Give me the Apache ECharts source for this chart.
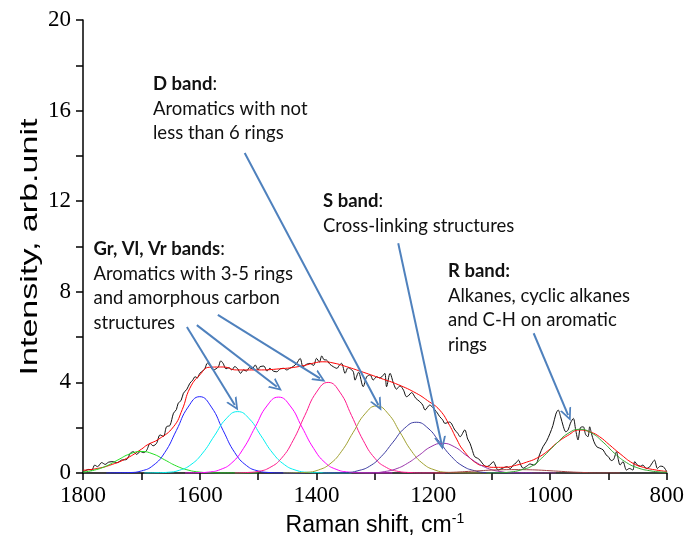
<!DOCTYPE html>
<html>
<head>
<meta charset="utf-8">
<script src="https://cdn.jsdelivr.net/npm/echarts@6/dist/echarts.min.js"></script>
<style>
html, body { margin: 0; padding: 0; background: #fff; }
#chart { width: 687px; height: 551px; }
</style>
</head>
<body>
<div id="chart"></div>
<script>
// measured spectrum [Raman shift, intensity]
const spectrum = [
  [1800,0.04],[1796,0.1],[1790,0.16],[1785,0.12],[1780,0.35],[1775,0.28],[1768,0.46],[1762,0.38],
  [1756,0.48],[1748,0.5],[1742,0.45],[1734,0.57],[1725,0.6],[1719,0.87],[1714,0.94],[1708,0.82],
  [1702,0.95],[1696,0.9],[1691,1.0],[1685,1.31],[1680,1.2],[1674,1.31],[1668,1.68],[1662,1.62],
  [1657,2.04],[1651,2.1],[1645,2.64],[1640,2.8],[1637,3.08],[1632,3.2],[1628,3.52],[1622,3.7],
  [1617,3.96],[1612,4.1],[1608,4.25],[1604,4.2],[1600,4.4],[1595,4.5],[1591,4.62],[1587,4.85],
  [1583,4.77],[1577,4.55],[1572,4.6],[1568,4.69],[1564,4.95],[1560,4.84],[1555,4.6],[1550,4.65],
  [1545,4.55],[1540,4.7],[1535,4.6],[1530,4.4],[1525,4.55],[1520,4.5],[1515,4.65],[1510,4.6],
  [1505,4.77],[1500,4.55],[1497,4.69],[1490,4.72],[1485,4.5],[1480,4.62],[1474,4.5],[1468,4.47],
  [1462,4.6],[1456,4.62],[1451,4.55],[1446,4.62],[1440,4.7],[1434,4.84],[1428,5.06],[1423,4.69],
  [1417,4.8],[1411,4.84],[1405,4.75],[1400,5.06],[1395,4.9],[1391,5.17],[1387,5.0],[1383,4.99],
  [1377,4.8],[1371,4.69],[1365,4.62],[1361,4.75],[1357,4.84],[1351,4.4],[1346,4.65],[1343,4.62],
  [1337,4.47],[1334,4.1],[1328,4.45],[1320,3.81],[1314,4.25],[1308,4.33],[1303,4.1],[1297,4.25],
  [1292,4.2],[1288,4.25],[1283,4.4],[1280,3.81],[1274,4.4],[1268,3.95],[1263,3.7],[1257,3.85],
  [1251,3.66],[1246,3.37],[1243,3.4],[1237,3.55],[1230,3.3],[1223,3.15],[1218,3.0],[1214,2.78],
  [1206,3.0],[1201,2.9],[1197,2.78],[1193,2.65],[1189,2.49],[1184,2.35],[1180,2.19],[1172,2.25],
  [1163,1.9],[1158,1.75],[1154,1.6],[1146,1.9],[1141,1.5],[1137,1.31],[1133,1.0],[1129,0.72],
  [1124,0.65],[1120,0.57],[1115,0.4],[1109,0.28],[1103,0.35],[1097,0.5],[1093,0.3],[1089,0.13],
  [1082,0.2],[1074,0.28],[1068,0.2],[1063,0.35],[1058,0.45],[1054,0.57],[1050,0.35],[1046,0.21],
  [1040,0.3],[1034,0.4],[1028,0.35],[1023,0.43],[1018,0.8],[1012,1.16],[1006,1.4],[1000,1.75],
  [995,2.1],[990,2.6],[986,2.78],[982,2.5],[977,2.04],[973,1.82],[969,1.9],[965,2.2],
  [960,2.41],[956,1.9],[952,1.46],[948,2.0],[943,2.04],[939,1.7],[935,1.6],[932,2.04],
  [929,1.75],[925,1.4],[920,1.16],[915,1.1],[909,1.02],[904,0.8],[900,0.72],[895,0.55],
  [891,0.6],[886,0.94],[883,0.6],[880,0.35],[875,0.5],[869,0.13],[864,0.2],[858,0.13],
  [855,0.5],[850,0.35],[845,0.3],[841,0.35],[835,0.2],[830,0.25],[826,0.4],[821,0.57],
  [816,0.2],[811,0.3],[806,0.28],[800,0.06]
]

// cumulative fit (red)
const fitCurve = [
  [1800,0.12],[1775,0.2],[1750,0.38],[1725,0.65],[1700,1.05],[1690,1.24],[1670,1.5],[1645,2.04],
  [1630,2.8],[1617,3.74],[1600,4.33],[1583,4.67],[1560,4.68],[1537,4.55],[1500,4.55],[1463,4.6],
  [1430,4.7],[1400,4.88],[1389,4.91],[1370,4.85],[1348,4.69],[1320,4.45],[1290,4.18],[1260,3.9],
  [1229,3.52],[1210,3.2],[1189,2.78],[1172,2.1],[1160,1.5],[1149,1.02],[1126,0.43],[1110,0.3],
  [1097,0.25],[1080,0.25],[1057,0.35],[1040,0.48],[1023,0.65],[1005,0.95],[989,1.31],[970,1.65],
  [949,1.9],[930,1.8],[915,1.6],[898,1.24],[880,0.85],[858,0.43],[840,0.25],[818,0.13],[800,0.07]
]

// fitted bands
const bandGreen = [
  [1800,0.04],[1780,0.13],[1760,0.31],[1740,0.58],[1720,0.84],[1700,0.95],[1680,0.84],[1660,0.58],
  [1640,0.31],[1620,0.13],[1600,0.04],[1580,0.01],[1560,0],[1500,0]
]
const bandBlue = [
  [1760,0],[1740,0.01],[1720,0.02],[1700,0.09],[1680,0.33],[1660,0.9],[1640,1.88],[1620,2.91],
  [1600,3.37],[1580,2.91],[1560,1.88],[1540,0.9],[1520,0.33],[1500,0.09],[1480,0.02],[1460,0],[1420,0]
]
const bandCyan = [
  [1695,0],[1675,0.01],[1655,0.03],[1635,0.12],[1615,0.37],[1595,0.88],[1575,1.64],[1555,2.39],
  [1535,2.71],[1515,2.39],[1495,1.64],[1475,0.88],[1455,0.37],[1435,0.12],[1415,0.03],[1395,0.01],
  [1375,0],[1340,0]
]
const bandMagenta = [
  [1625,0],[1605,0.01],[1585,0.04],[1565,0.15],[1545,0.45],[1525,1.09],[1505,2.03],[1485,2.96],
  [1465,3.35],[1445,2.96],[1425,2.03],[1405,1.09],[1385,0.45],[1365,0.15],[1345,0.04],[1325,0.01],
  [1305,0],[1270,0]
]
const bandPink = [
  [1540,0],[1520,0.02],[1500,0.07],[1480,0.24],[1460,0.65],[1440,1.44],[1420,2.54],[1400,3.57],
  [1380,4.0],[1360,3.57],[1340,2.54],[1320,1.44],[1300,0.65],[1280,0.24],[1260,0.07],[1240,0.02],
  [1220,0],[1180,0]
]
const bandOlive = [
  [1457,0],[1437,0.01],[1417,0.03],[1397,0.13],[1377,0.4],[1357,0.96],[1337,1.8],[1317,2.61],
  [1297,2.96],[1277,2.61],[1257,1.8],[1237,0.96],[1217,0.4],[1197,0.13],[1177,0.03],[1157,0.01],
  [1137,0],[1100,0]
]
const bandSlate = [
  [1389,0],[1369,0.01],[1349,0.02],[1329,0.1],[1309,0.3],[1289,0.73],[1269,1.36],[1249,1.98],
  [1229,2.24],[1209,1.98],[1189,1.36],[1169,0.73],[1149,0.3],[1129,0.1],[1109,0.02],[1089,0.01],
  [1069,0],[1030,0]
]
const bandPurple = [
  [1344,0],[1324,0.01],[1304,0.01],[1284,0.06],[1264,0.18],[1244,0.43],[1224,0.79],[1204,1.16],
  [1184,1.31],[1164,1.16],[1144,0.79],[1124,0.43],[1104,0.18],[1084,0.06],[1064,0.01],[1044,0.01],
  [1024,0],[990,0]
]
const bandBrown = [
  [1200,0],[1180,0.02],[1160,0.04],[1140,0.07],[1120,0.1],[1100,0.13],[1080,0.145],[1060,0.15],
  [1040,0.145],[1020,0.13],[1000,0.1],[980,0.07],[960,0.04],[940,0.02],[920,0],[880,0]
]
const bandR = [
  [1109,0],[1089,0.01],[1069,0.04],[1049,0.14],[1029,0.34],[1009,0.79],[989,1.3],[969,1.75],
  [949,1.93],[929,1.77],[909,1.36],[889,0.86],[869,0.46],[849,0.22],[829,0.1],[809,0.04],[800,0.03]
]

const bands = [
  { data: bandGreen, color: '#22dd22' },
  { data: bandBlue, color: '#2222ff' },
  { data: bandCyan, color: '#00f0f0' },
  { data: bandMagenta, color: '#ff00ff' },
  { data: bandPink, color: '#ff1a8c' },
  { data: bandOlive, color: '#a0a030' },
  { data: bandSlate, color: '#3a3aa0' },
  { data: bandPurple, color: '#9933aa' },
  { data: bandBrown, color: '#a04040' },
  { data: bandR, color: '#33a833' }
]

const arrowHead = 'path://M0,10 L5,0 L10,10 L8.4,10 L5,3.2 L1.6,10 Z'
const txt = { fontFamily: 'Lato', fontSize: 18.5, lineHeight: 24.6, fill: '#111' }
const bold = { fontFamily: 'Lato', fontSize: 18.5, fontWeight: 'bold', lineHeight: 24.6 }

const chart = echarts.init(document.getElementById('chart'))

const series = []
series.push({
  type: 'line',
  data: spectrum,
  symbol: 'none',
  smooth: 0.3,
  lineStyle: { color: '#111', width: 1 },
  silent: true
})
series.push({
  type: 'line',
  data: fitCurve,
  symbol: 'none',
  smooth: 0.5,
  lineStyle: { color: '#ff0000', width: 1 },
  silent: true
})
bands.forEach(b => {
  series.push({
    type: 'line',
    data: b.data,
    smooth: 0.5,
    symbol: 'none',
    lineStyle: { color: b.color, width: 1 },
    silent: true
  })
})
// arrows pointing to the bands
series.push({
  type: 'line',
  data: [],
  z: 10,
  markLine: {
    silent: true,
    symbol: ['none', arrowHead],
    symbolSize: [12, 13],
    label: { show: false },
    lineStyle: { color: '#4f81bd', width: 2, type: 'solid' },
    data: [
      [{ coord: [1622, 6.45] }, { coord: [1540, 3.0] }],
      [{ coord: [1605, 6.53] }, { coord: [1468, 3.81] }],
      [{ coord: [1569, 6.98] }, { coord: [1394, 4.18] }],
      [{ coord: [1523, 14.13] }, { coord: [1294, 3.0] }],
      [{ coord: [1260, 10.14] }, { coord: [1186, 1.31] }],
      [{ coord: [1028, 6.17] }, { coord: [969, 2.56] }]
    ]
  }
})

chart.setOption({
  animation: false,
  grid: { left: 83, right: 20, top: 20, bottom: 78 },
  xAxis: {
    type: 'value',
    min: 800,
    max: 1800,
    interval: 200,
    inverse: true,
    name: 'Raman shift, cm{sup|-1}',
    nameLocation: 'middle',
    nameGap: 38,
    nameTextStyle: {
      fontFamily: 'Liberation Sans', fontSize: 23, color: '#000', lineHeight: 28,
      rich: { sup: { fontFamily: 'Liberation Sans', fontSize: 14, verticalAlign: 'top', lineHeight: 14, color: '#000' } }
    },
    axisLine: { onZero: false, lineStyle: { color: '#000', width: 1.5 } },
    axisTick: { length: 7, lineStyle: { color: '#000', width: 1.5 } },
    minorTick: { show: true, splitNumber: 2, length: 7, lineStyle: { color: '#000', width: 1.5 } },
    splitLine: { show: false },
    axisLabel: { fontFamily: 'Liberation Serif', fontSize: 23, color: '#000', margin: 11, formatter: v => String(v) }
  },
  yAxis: {
    type: 'value',
    min: 0,
    max: 20,
    interval: 4,
    axisLine: { show: true, onZero: false, lineStyle: { color: '#000', width: 1.5 } },
    axisTick: { show: true, length: 7, lineStyle: { color: '#000', width: 1.5 } },
    minorTick: { show: true, splitNumber: 2, length: 7, lineStyle: { color: '#000', width: 1.5 } },
    splitLine: { show: false },
    axisLabel: { fontFamily: 'Liberation Serif', fontSize: 23, color: '#000', margin: 12, formatter: v => String(v) }
  },
  graphic: [
    {
      type: 'text', x: 30, y: 247, rotation: Math.PI / 2, scaleX: 1.42,
      style: { text: 'Intensity, arb.unit', fontFamily: 'Liberation Sans', fontSize: 24, fill: '#000', align: 'center', verticalAlign: 'middle' }
    },
    { type: 'text', x: 153, y: 72, style: Object.assign({ text: '{b|D band}:\nAromatics with not\nless than 6 rings', rich: { b: bold } }, txt) },
    { type: 'text', x: 323, y: 189, style: Object.assign({ text: '{b|S band}:\nCross-linking structures', rich: { b: bold } }, txt) },
    { type: 'text', x: 93.5, y: 237, style: Object.assign({ text: '{b|Gr, Vl, Vr bands}:\nAromatics with 3-5 rings\nand amorphous carbon\nstructures', rich: { b: bold } }, txt) },
    { type: 'text', x: 448, y: 259, style: Object.assign({ text: '{b|R band:}\nAlkanes, cyclic alkanes\nand C-H on aromatic\nrings', rich: { b: bold } }, txt) }
  ],
  series: series
})
</script>
</body>
</html>
